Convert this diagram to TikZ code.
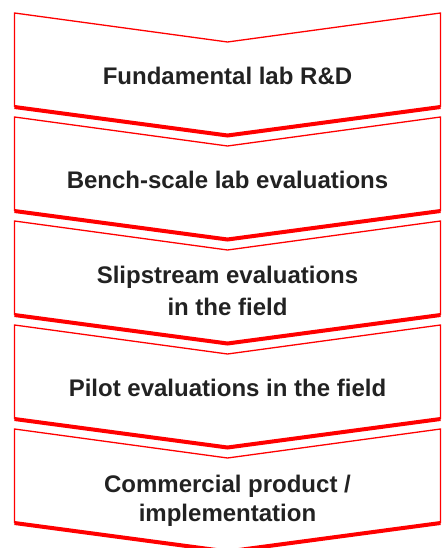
\documentclass[tikz,border=0pt]{standalone}
\usepackage{fontspec}
\setmainfont{Liberation Sans}
\definecolor{chevred}{HTML}{FF0000}
\definecolor{labelgray}{HTML}{222222}
\begin{document}
\begin{tikzpicture}[x=1pt,y=-1pt,
  outline/.style={draw=chevred,line width=1.3pt,line join=miter},
  baseedge/.style={draw=chevred,line width=4pt,line join=miter,line cap=butt},
  steptext/.style={text=labelgray,font=\fontsize{24}{32}\selectfont\bfseries,anchor=base,inner sep=0pt}]
\useasboundingbox (0,0) rectangle (442,548);
% five stacked chevrons, each with a heavy lower edge
\foreach \k in {0,...,4}{
  \pgfmathsetmacro\t{13+104*\k}
  \draw[outline] (14.5,\t+94) -- (14.5,\t) -- (227.5,\t+29) -- (440.5,\t) -- (440.5,\t+94);
  \draw[baseedge] (14.5,\t+94) -- (227.5,\t+122.5) -- (440.5,\t+94);
}
% stage labels
\node[steptext] (s1) at (227.5,84.5) {Fundamental lab R\&D};
\node[steptext] (s2) at (227.5,188.5) {Bench-scale lab evaluations};
\node[steptext] (s3a) at (227.5,283.5) {Slipstream evaluations};
\node[steptext] (s3b) at (227.5,315.5) {in the field};
\node[steptext] (s4) at (227.5,396.5) {Pilot evaluations in the field};
\node[steptext] (s5a) at (227.5,492.5) {Commercial product /};
\node[steptext] (s5b) at (227.5,521.5) {implementation};
\end{tikzpicture}
\end{document}
